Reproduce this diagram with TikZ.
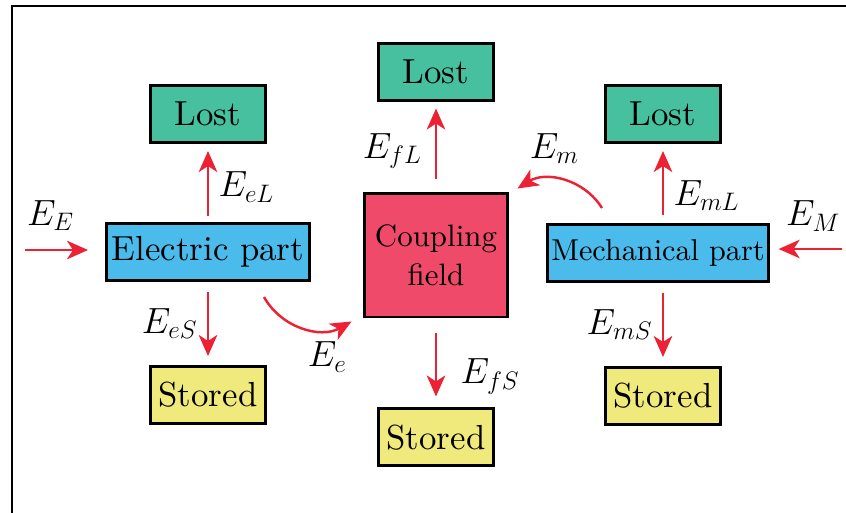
\documentclass[tikz,border=0pt]{standalone}
\usetikzlibrary{positioning,arrows.meta}
\DeclareFontFamily{TU}{lmten}{}
\DeclareFontShape{TU}{lmten}{m}{n}{<-> "[lmroman10-regular]:+tlig;"}{}
\definecolor{lostgreen}{RGB}{70,192,158}
\definecolor{partblue}{RGB}{74,187,235}
\definecolor{storeyellow}{RGB}{240,234,124}
\definecolor{fieldpink}{RGB}{239,74,106}
\definecolor{flowred}{RGB}{236,34,52}

\begin{document}
\begin{tikzpicture}[
  x=0.02cm, y=-0.02cm,
  font=\fontfamily{lmten}\fontsize{19.8}{23}\selectfont,
  box/.style={draw,line width=1.7pt,minimum height=1.14cm},
  lost/.style={box,fill=lostgreen,minimum width=2.32cm},
  stored/.style={box,fill=storeyellow,minimum width=2.32cm},
  part/.style={box,fill=partblue,inner xsep=0.11cm},
  flow/.style={draw=flowred,line width=1.4pt,-{Stealth[length=0.42cm,width=0.37cm,inset=0.12cm]}}
]
\useasboundingbox (0,0) rectangle (846,512);
\clip (0,0) rectangle (846,512);
\draw[line width=1.6pt] (12,6) rectangle (900,560);

\node[part] (ep) at (208,252) {Electric part};
\node[part,font=\fontfamily{lmten}\fontsize{17.2}{20}\selectfont,inner xsep=0.07cm] (mp) at (658,253) {Mechanical part};
\node[box,fill=fieldpink,minimum width=2.88cm,minimum height=2.48cm,
  align=center,font=\fontfamily{lmten}\fontsize{17.6}{22}\selectfont] (cf) at (436,255) {Coupling\\field};

\node[lost,above=1.56cm of ep] (el) {Lost};
\node[stored,below=1.66cm of ep] (es) {Stored};
\node[lost,above=1.8cm of cf] (fl) {Lost};
\node[stored,below=1.78cm of cf] (fs) {Stored};
\node[lost,above=1.58cm of mp,xshift=0.1cm] (ml) {Lost};
\node[stored,below=1.66cm of mp,xshift=0.1cm] (ms) {Stored};

\coordinate (inE) at (25,250);
\coordinate (inM) at (842,249);

% energy flows
\draw[flow,shorten >=0.34cm] (inE) -- (inE -| ep.west) node[pos=0.32,above=7pt] {$E_E$};
\draw[flow,shorten >=0.18cm] (inM) -- (inM -| mp.east) node[pos=0.4,above=6pt] {$E_M$};

\draw[flow,shorten <=0.12cm,shorten >=0.14cm] (ep) -- (el) node[pos=0.45,right=2pt] {$E_{eL}$};
\draw[flow,shorten <=0.2cm,shorten >=0.18cm] (ep) -- (es) node[midway,left=2pt] {$E_{eS}$};
\draw[flow,shorten <=0.26cm,shorten >=0.14cm] (fl |- cf.north) -- (fl) node[pos=0.45,left=4pt] {$E_{fL}$};
\draw[flow,shorten <=0.3cm,shorten >=0.22cm] (fs |- cf.south) -- (fs) node[pos=0.65,right=10pt] {$E_{fS}$};
\draw[flow,shorten <=0.16cm,shorten >=0.14cm] (ml |- mp.north) -- (ml) node[pos=0.35,right=2pt] {$E_{mL}$};
\draw[flow,shorten <=0.2cm,shorten >=0.18cm] (ms |- mp.south) -- (ms) node[midway,left=2pt] {$E_{mS}$};

\draw[flow] ([xshift=1.12cm,yshift=-0.3cm]ep.south) to[bend right=45]
  node[pos=0.75,below=3pt] {$E_e$} ([xshift=-0.22cm,yshift=-0.06cm]cf.south west);
\draw[flow] ([xshift=-1.12cm,yshift=0.3cm]mp.north) to[bend right=45]
  node[pos=0.6,above=5pt] {$E_m$} ([xshift=0.16cm,yshift=0.06cm]cf.north east);

\end{tikzpicture}
\end{document}
